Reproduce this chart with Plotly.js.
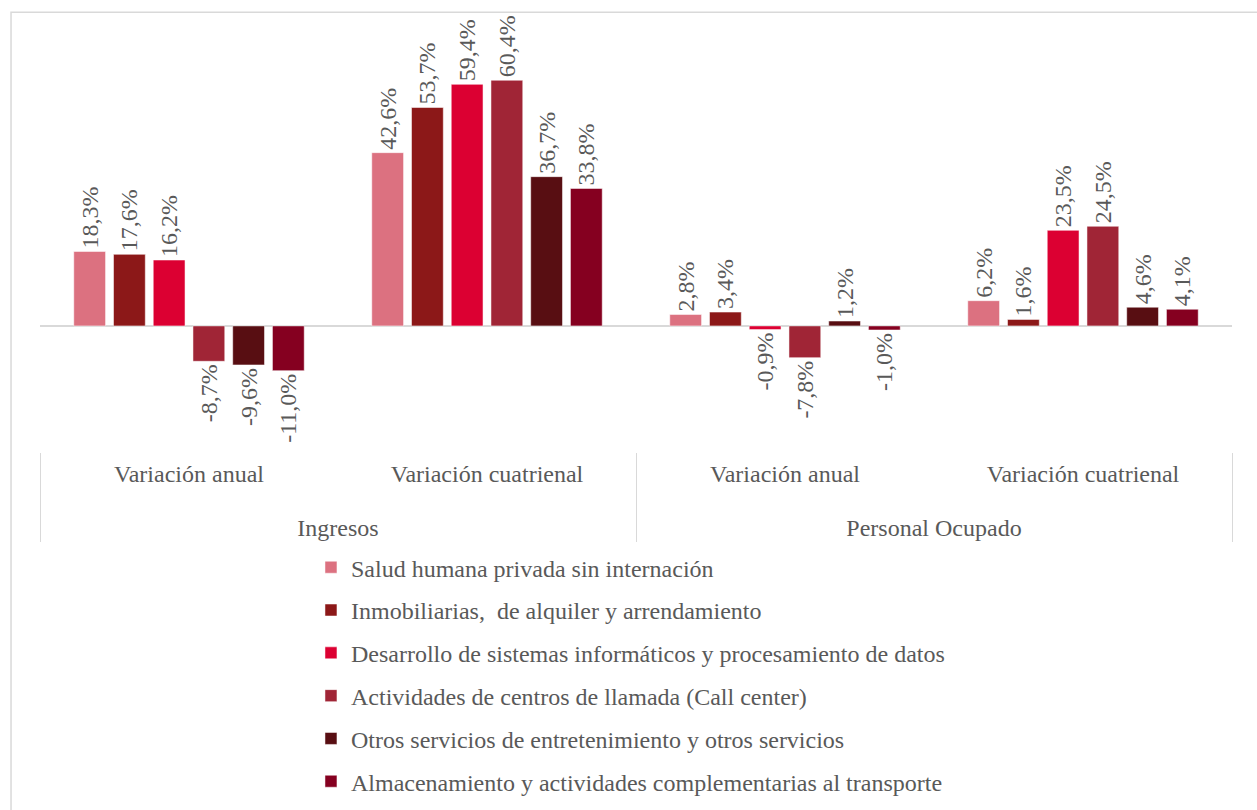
<!DOCTYPE html>
<html>
<head>
<meta charset="utf-8">
<script src="https://cdn.plot.ly/plotly-3.0.1.min.js"></script>
<style>
  html, body { margin: 0; padding: 0; background: #fff; }
  #chart { width: 1257px; height: 810px; }
</style>
</head>
<body>
<div id="chart"></div>
<script>
// ---- Data ----
const outerCategories = ["Ingresos", "Ingresos", "Personal Ocupado", "Personal Ocupado"];
const innerCategories = ["Variación anual", "Variación cuatrienal", "Variación anual", "Variación cuatrienal"];

const seriesNames = [
  "Salud humana privada sin internación",
  "Inmobiliarias,  de alquiler y arrendamiento",
  "Desarrollo de sistemas informáticos y procesamiento de datos",
  "Actividades de centros de llamada (Call center)",
  "Otros servicios de entretenimiento y otros servicios",
  "Almacenamiento y actividades complementarias al transporte"
];

const saludValues = [18.3, 42.6, 2.8, 6.2];
const inmobiliariasValues = [17.6, 53.7, 3.4, 1.6];
const desarrolloValues = [16.2, 59.4, -0.9, 23.5];
const callCenterValues = [-8.7, 60.4, -7.8, 24.5];
const otrosValues = [-9.6, 36.7, 1.2, 4.6];
const almacenamientoValues = [-11.0, 33.8, -1.0, 4.1];

const seriesValues = [saludValues, inmobiliariasValues, desarrolloValues,
                      callCenterValues, otrosValues, almacenamientoValues];

const seriesColors = ["#dc7180", "#8c1818", "#dc0032", "#a02536", "#580e12", "#850020"];

// ---- Styling ----
const FONT = "Liberation Serif, Times New Roman, serif";
const GRAY = "#595959";
const FS = 24;
// invisible extra line under the inner labels to widen the gap to the outer row
const SPACER = "<br>\u00a0";

const traces = seriesValues.map((vals, i) => ({
  type: "bar",
  name: seriesNames[i],
  legendgroup: "g" + i,
  x: [outerCategories, innerCategories.map(c => c + SPACER)],
  y: vals,
  marker: { color: seriesColors[i], line: { color: "rgba(255,255,255,0.5)", width: 1 } },
  text: vals.map(v => v.toFixed(1).replace(".", ",") + "%"),
  texttemplate: "%{text}",
  textposition: "outside",
  textangle: -90,
  constraintext: "none",
  cliponaxis: false,
  textfont: { family: FONT, size: FS, color: GRAY },
  hoverinfo: "skip"
}));

const layout = {
  width: 1257,
  height: 810,
  margin: { l: 40, r: 25, t: 40, b: 358, autoexpand: false },
  paper_bgcolor: "#ffffff",
  plot_bgcolor: "#ffffff",
  barmode: "group",
  bargap: 0.2,
  bargroupgap: 0.2,
  showlegend: true,
  font: { family: FONT, size: FS, color: GRAY },
  xaxis: {
    type: "multicategory",
    showline: false,
    ticks: "",
    ticklabelstandoff: 5,
    showgrid: false,
    showdividers: true,
    dividercolor: "#d9d9d9",
    dividerwidth: 1,
    automargin: false,
    tickfont: { family: FONT, size: FS, color: GRAY }
  },
  yaxis: {
    range: [-31, 70.3],
    showgrid: false,
    showticklabels: false,
    zeroline: true,
    zerolinecolor: "#d9d9d9",
    zerolinewidth: 2,
    showline: false,
    automargin: false,
    ticks: ""
  },
  legend: {
    orientation: "v",
    xref: "container",
    yref: "container",
    x: 0.2474,
    xanchor: "left",
    y: 0.327,
    yanchor: "top",
    tracegroupgap: 8.6,
    font: { family: FONT, size: FS, color: GRAY },
    bgcolor: "rgba(0,0,0,0)"
  },
  shapes: [{
    type: "rect",
    xref: "paper", yref: "paper",
    x0: -0.0243, x1: 1.05,
    y0: -0.9, y1: 1.0675,
    line: { color: "#d9d9d9", width: 1.5 },
    fillcolor: "rgba(0,0,0,0)",
    layer: "below"
  }]
};

Plotly.newPlot("chart", traces, layout, { displayModeBar: false, staticPlot: true });
</script>
</body>
</html>
